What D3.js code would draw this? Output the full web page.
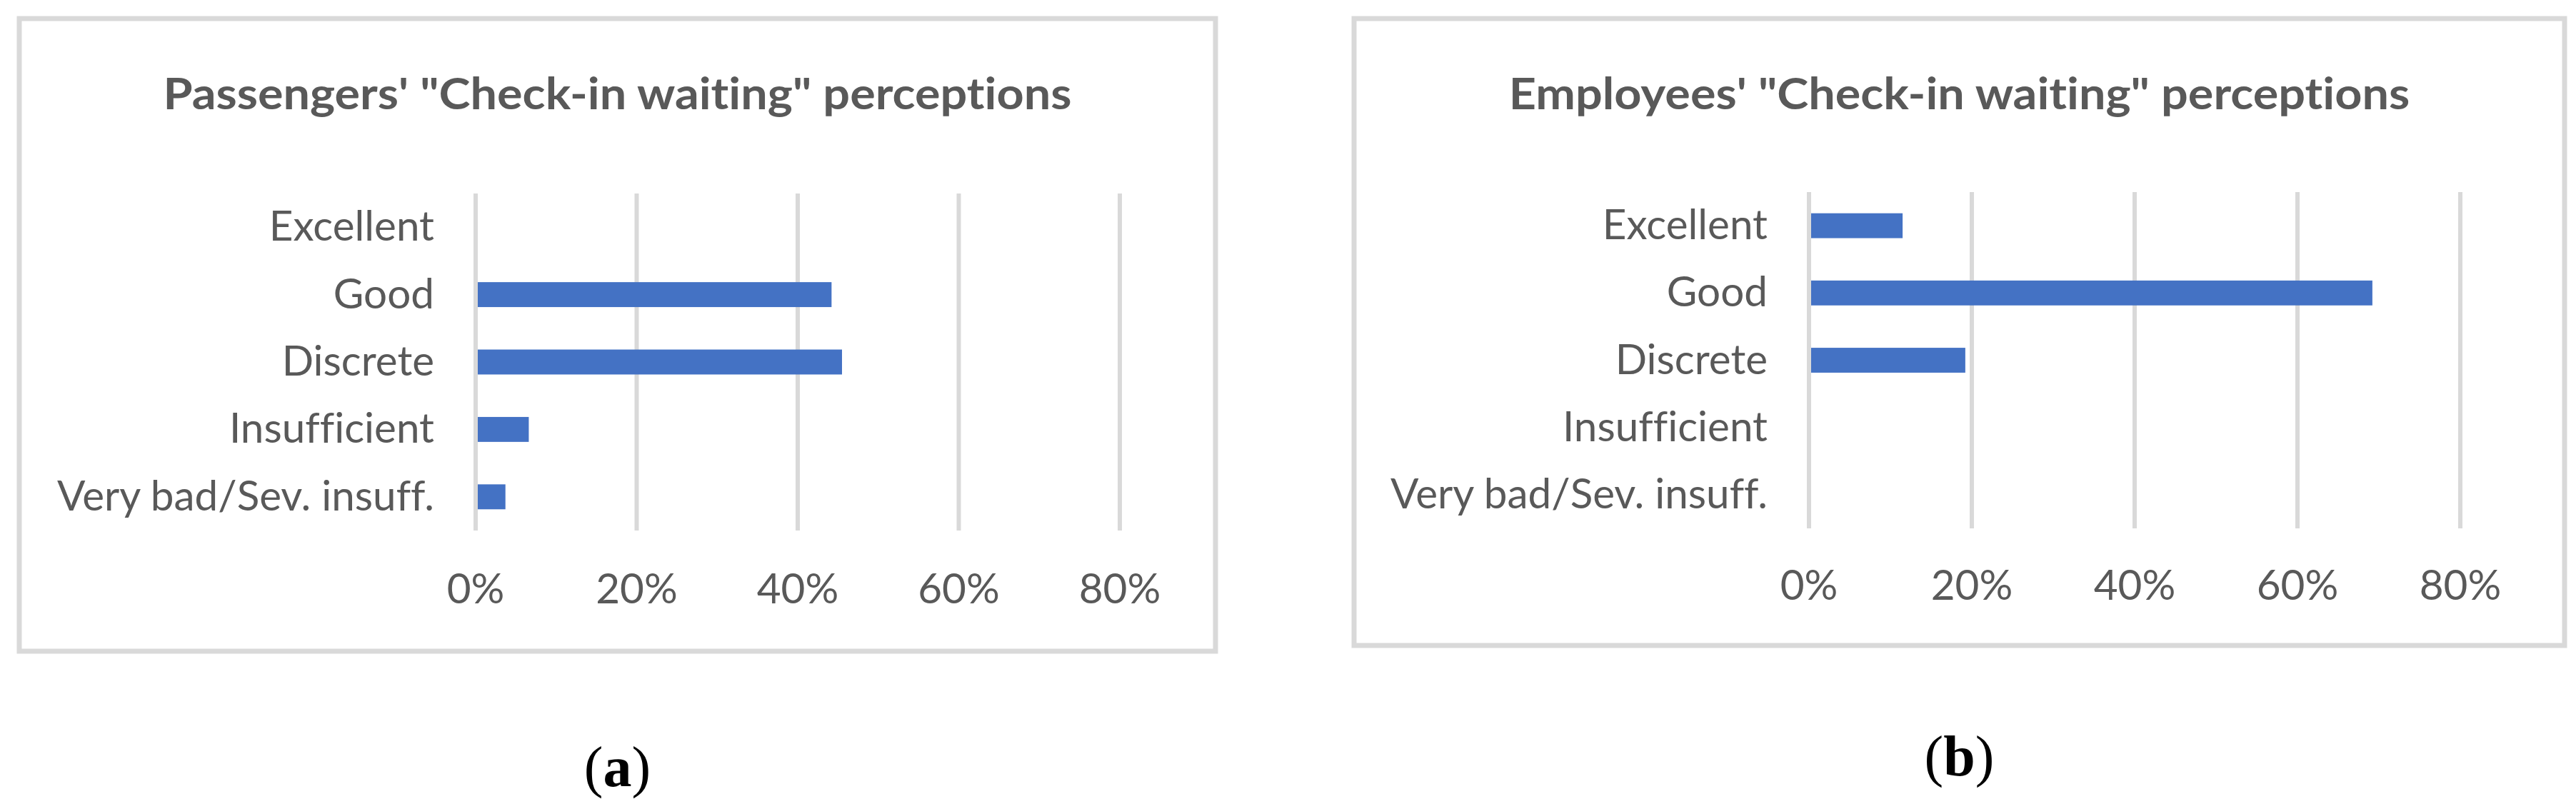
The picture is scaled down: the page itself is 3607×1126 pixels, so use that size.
<!DOCTYPE html>
<html>
<head>
<meta charset="utf-8">
<script src="https://cdn.jsdelivr.net/npm/d3@7"></script>
<style>
  body { margin: 0; background: #fff; }
  svg { display: block; }
  text { font-family: Lato, "Open Sans", sans-serif; fill: #595959; font-variant-ligatures: none; font-feature-settings: "liga" 0, "clig" 0; }
</style>
</head>
<body>
<div id="stage"></div>
<script>
// data
var categories = ["Excellent", "Good", "Discrete", "Insufficient", "Very bad/Sev. insuff."];
var passengerValues = [0, 0.442, 0.455, 0.066, 0.037];
var employeeValues = [0.115, 0.692, 0.192, 0, 0];
var tickValues = [0, 0.2, 0.4, 0.6, 0.8];
var titles = ["Passengers' \"Check-in waiting\" perceptions", "Employees' \"Check-in waiting\" perceptions"];
var captions = ["a", "b"];

var W = 3607, H = 1126;
var blue = "#4472C4", grey = "#d9d9d9";

// frame and plot boxes for the two panels
var panels = [
  { values: passengerValues, frame: [27, 26, 1702, 912], plot: [666, 271, 1568, 743], tickY: 845, capY: 1101 },
  { values: employeeValues,  frame: [1896, 26, 3591, 904], plot: [2533, 269, 3445, 740], tickY: 840, capY: 1086 }
];

var svg = d3.select("#stage")
  .append("svg")
  .attr("width", W)
  .attr("height", H);

// Calibri is narrower-than-tall vs Lato; stretch text to the reference widths
function stretch(sel, k){
  sel.each(function(){
    var w = this.getComputedTextLength();
    d3.select(this).attr("textLength", w * k).attr("lengthAdjust", "spacingAndGlyphs");
  });
}

var kLabel = null, kTitle = null;

panels.forEach(function(p, i){
  var g = svg.append("g");
  var f = p.frame;

  g.append("rect")
    .attr("x", f[0]).attr("y", f[1])
    .attr("width", f[2] - f[0]).attr("height", f[3] - f[1])
    .attr("fill", "#fff")
    .attr("stroke", grey)
    .attr("stroke-width", 7);

  var x = d3.scaleLinear().domain([0, 0.8]).range([p.plot[0], p.plot[2]]);
  var y = d3.scaleBand().domain(categories).range([p.plot[1], p.plot[3]])
    .paddingInner(0.63).paddingOuter(0.315);

  // vertical gridlines
  g.selectAll(".grid")
    .data(tickValues)
    .enter().append("line")
    .attr("x1", function(d){ return x(d); })
    .attr("x2", function(d){ return x(d); })
    .attr("y1", p.plot[1])
    .attr("y2", p.plot[3])
    .attr("stroke", grey)
    .attr("stroke-width", 6);

  // bars
  g.selectAll(".bar")
    .data(p.values)
    .enter().append("rect")
    .attr("x", x(0) + 3)
    .attr("y", function(d, j){ return y(categories[j]); })
    .attr("width", function(d){ return Math.max(0, x(d) - x(0) - 3); })
    .attr("height", y.bandwidth())
    .attr("fill", blue);

  // category labels
  var cats = g.selectAll(".cat")
    .data(categories)
    .enter().append("text")
    .attr("x", x(0) - 58)
    .attr("y", function(d){ return y(d) + y.bandwidth() / 2 + 19; })
    .attr("text-anchor", "end")
    .style("font-size", "58px")
    .text(function(d){ return d; });
  if(kLabel === null){
    kLabel = 528 / cats.filter(function(d){ return d == categories[4]; }).node().getComputedTextLength();
  }
  stretch(cats, kLabel);

  // tick labels
  var ticks = g.selectAll(".tick")
    .data(tickValues)
    .enter().append("text")
    .attr("x", function(d){ return x(d); })
    .attr("y", p.tickY)
    .attr("text-anchor", "middle")
    .style("font-size", "58px")
    .text(d3.format(".0%"));
  stretch(ticks, kLabel);

  // title
  var t = g.append("text")
    .attr("x", (f[0] + f[2]) / 2)
    .attr("y", 153)
    .attr("text-anchor", "middle")
    .style("font-size", "62px")
    .style("font-weight", "bold")
    .text(titles[i]);
  if(kTitle === null){ kTitle = 1272 / t.node().getComputedTextLength(); }
  stretch(t, kTitle);

  // caption (a)/(b)
  var cap = svg.append("text")
    .attr("x", (f[0] + f[2]) / 2)
    .attr("y", p.capY)
    .attr("text-anchor", "middle")
    .style("font-family", "'Liberation Serif', 'DejaVu Serif', serif")
    .style("font-size", "80px")
    .style("fill", "#000");
  cap.append("tspan").text("(");
  cap.append("tspan").style("font-weight", "bold").text(captions[i]);
  cap.append("tspan").text(")");
});
</script>
</body>
</html>
